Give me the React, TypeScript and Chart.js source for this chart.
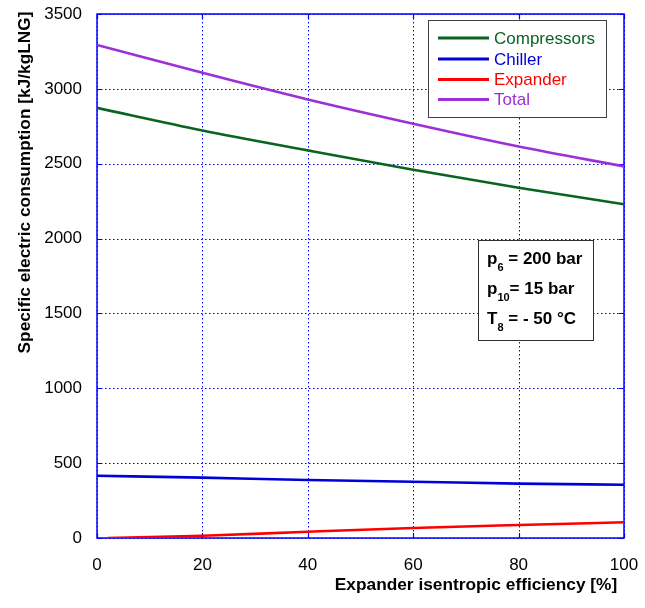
import React, { useEffect, useRef } from "react";
import { Chart, registerables } from "chart.js";

Chart.register(...registerables);

const efficiency = [0, 20, 40, 60, 80, 100];
const compressors = [2873, 2722, 2589, 2460, 2340, 2229];
const chiller = [416, 403, 387, 376, 363, 356];
const expanderEfficiency = [2, 20, 40, 60, 80, 100];
const expander = [0, 15, 42, 67, 87, 105];
const total = [3293, 3107, 2929, 2767, 2615, 2482];

const xTicks = [0, 20, 40, 60, 80, 100];
const yTicks = [0, 500, 1000, 1500, 2000, 2500, 3000, 3500];

const seriesNames = ["Compressors", "Chiller", "Expander", "Total"];
const seriesColors = ["#0a6420", "#0000d8", "#ff0000", "#9b30d6"];

const paramRows = [
  { main: "p", sub: "6", rest: " = 200 bar" },
  { main: "p", sub: "10", rest: "= 15 bar" },
  { main: "T", sub: "8", rest: " = - 50 °C" },
];

const xTitle = "Expander isentropic efficiency [%]";
const yTitle = "Specific electric consumption [kJ/kgLNG]";

const FONT = "'Liberation Sans', Arial, sans-serif";

const framePlugin = {
  id: "framePlugin",
  beforeDatasetsDraw(chart: any) {
    const { ctx, chartArea: a, scales } = chart;
    const xs = scales.x;
    const ys = scales.y;
    ctx.save();
    ctx.strokeStyle = "#0000ff";
    ctx.lineWidth = 1;
    ctx.setLineDash([1.5, 2.5]);
    xTicks.forEach((t) => {
      const px = Math.round(xs.getPixelForValue(t)) + 0.5;
      ctx.beginPath();
      ctx.moveTo(px, a.top);
      ctx.lineTo(px, a.bottom);
      ctx.stroke();
    });
    yTicks.forEach((t) => {
      const py = Math.round(ys.getPixelForValue(t)) + 0.5;
      ctx.beginPath();
      ctx.moveTo(a.left, py);
      ctx.lineTo(a.right, py);
      ctx.stroke();
    });
    ctx.setLineDash([]);
    ctx.lineWidth = 1.2;
    const tl = 5;
    xTicks.forEach((t) => {
      const px = Math.round(xs.getPixelForValue(t)) + 0.5;
      ctx.beginPath();
      ctx.moveTo(px, a.bottom);
      ctx.lineTo(px, a.bottom - tl);
      ctx.moveTo(px, a.top);
      ctx.lineTo(px, a.top + tl);
      ctx.stroke();
    });
    yTicks.forEach((t) => {
      const py = Math.round(ys.getPixelForValue(t)) + 0.5;
      ctx.beginPath();
      ctx.moveTo(a.left, py);
      ctx.lineTo(a.left + tl, py);
      ctx.moveTo(a.right, py);
      ctx.lineTo(a.right - tl, py);
      ctx.stroke();
    });
    ctx.lineWidth = 1.5;
    ctx.strokeRect(a.left, a.top, a.right - a.left, a.bottom - a.top);
    ctx.restore();
  },
  afterDatasetsDraw(chart: any) {
    const { ctx } = chart;
    ctx.save();
    ctx.fillStyle = "#ffffff";
    ctx.fillRect(428, 20, 178, 97);
    ctx.strokeStyle = "#404040";
    ctx.lineWidth = 1;
    ctx.strokeRect(428.5, 20.5, 178, 97);
    const rowsY = [38, 59, 79.5, 99.5];
    ctx.font = `17px ${FONT}`;
    ctx.textBaseline = "middle";
    ctx.textAlign = "left";
    seriesNames.forEach((name, i) => {
      ctx.strokeStyle = seriesColors[i];
      ctx.lineWidth = 3;
      ctx.beginPath();
      ctx.moveTo(438, rowsY[i]);
      ctx.lineTo(489, rowsY[i]);
      ctx.stroke();
      ctx.fillStyle = seriesColors[i];
      ctx.fillText(name, 494, rowsY[i] + 1);
    });
    ctx.fillStyle = "#ffffff";
    ctx.fillRect(478, 240, 115, 100);
    ctx.strokeStyle = "#303030";
    ctx.lineWidth = 1;
    ctx.strokeRect(478.5, 240.5, 115, 100);
    ctx.fillStyle = "#000000";
    const pY = [259, 289, 319];
    paramRows.forEach((r, i) => {
      let x = 487;
      const y = pY[i];
      ctx.font = `bold 17px ${FONT}`;
      ctx.textBaseline = "middle";
      ctx.fillText(r.main, x, y);
      x += ctx.measureText(r.main).width;
      ctx.font = `bold 11px ${FONT}`;
      ctx.fillText(r.sub, x, y + 9);
      x += ctx.measureText(r.sub).width;
      ctx.font = `bold 17px ${FONT}`;
      ctx.fillText(r.rest, x, y);
    });
    ctx.fillStyle = "#000000";
    ctx.font = `bold 17.3px ${FONT}`;
    ctx.textAlign = "center";
    ctx.textBaseline = "middle";
    ctx.fillText(xTitle, 476, 585);
    ctx.translate(25, 182.5);
    ctx.rotate(-Math.PI / 2);
    ctx.fillText(yTitle, 0, 0);
    ctx.restore();
  },
};

export default function App() {
  const ref = useRef<HTMLCanvasElement | null>(null);
  useEffect(() => {
    if (!ref.current) return;
    const mk = (xs: number[], ys: number[]) => xs.map((x, i) => ({ x, y: ys[i] }));
    const datasets = [
      mk(efficiency, compressors),
      mk(efficiency, chiller),
      mk(expanderEfficiency, expander),
      mk(efficiency, total),
    ].map((data, i) => ({
      label: seriesNames[i],
      data,
      borderColor: seriesColors[i],
      backgroundColor: seriesColors[i],
      borderWidth: 2.6,
      pointRadius: 0,
      cubicInterpolationMode: "monotone" as const,
      fill: false,
    }));
    const chart = new Chart(ref.current, {
      type: "line",
      data: { datasets },
      options: {
        animation: false,
        responsive: false,
        devicePixelRatio: 1,
        layout: { padding: { left: 0, right: 21, top: 14, bottom: 0 } },
        plugins: { legend: { display: false }, tooltip: { enabled: false } },
        scales: {
          x: {
            type: "linear",
            min: 0,
            max: 100,
            afterFit: (s: any) => {
              s.height = 70;
              s.paddingLeft = 0;
              s.paddingRight = 0;
            },
            afterBuildTicks: (s: any) => {
              s.ticks = xTicks.map((v) => ({ value: v }));
            },
            grid: { display: false },
            border: { display: false },
            ticks: {
              padding: 9,
              color: "#000",
              font: { family: FONT, size: 17 },
              maxRotation: 0,
              callback: (v: any) => String(v),
            },
          },
          y: {
            type: "linear",
            min: 0,
            max: 3500,
            afterFit: (s: any) => {
              s.width = 97;
              s.paddingTop = 0;
              s.paddingBottom = 0;
            },
            afterBuildTicks: (s: any) => {
              s.ticks = yTicks.map((v) => ({ value: v }));
            },
            grid: { display: false },
            border: { display: false },
            ticks: {
              padding: 7,
              color: "#000",
              font: { family: FONT, size: 17 },
              callback: (v: any) => String(v),
            },
          },
        },
      },
      plugins: [framePlugin],
    });
    return () => chart.destroy();
  }, []);
  return (
    <div style={{ position: "absolute", left: 0, top: 0, width: 645, height: 608, background: "#fff" }}>
      <canvas ref={ref} width={645} height={608} />
    </div>
  );
}
